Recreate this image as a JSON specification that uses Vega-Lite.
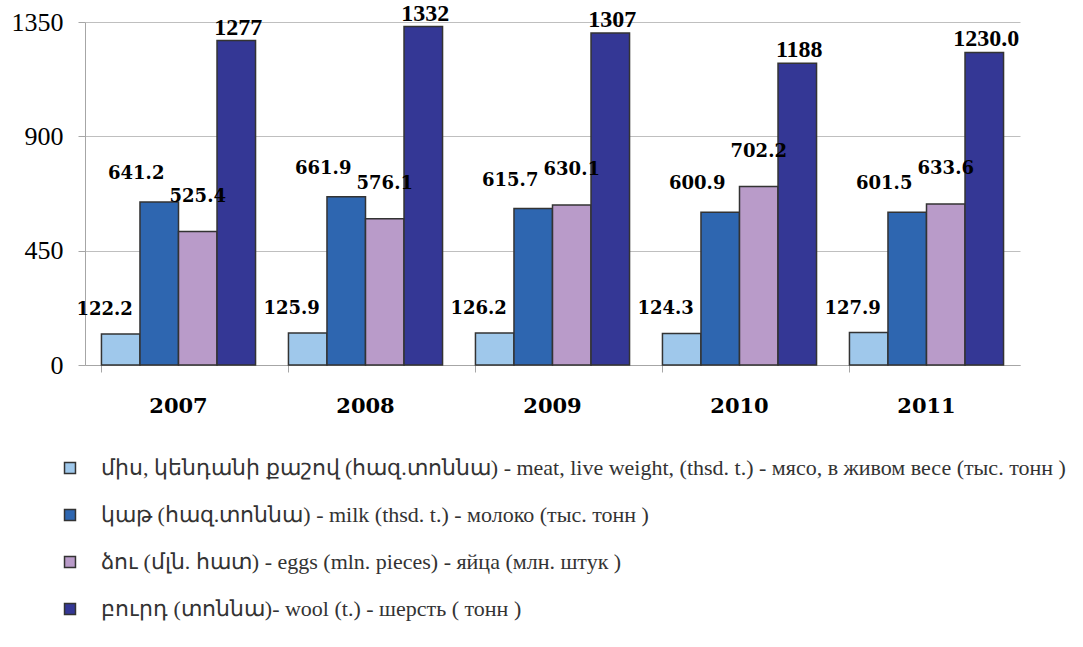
{
  "$schema": "https://vega.github.io/schema/vega-lite/v6.json",
  "width": 935,
  "height": 343,
  "autosize": "none",
  "padding": {"left": 85, "top": 22, "right": 63, "bottom": 282},
  "background": "white",
  "data": {
    "values": [
      {"year": "2007", "key": "meat", "series": "միս, կենդանի քաշով (հազ.տոննա)  - meat, live weight, (thsd. t.) -  мясо, в живом весе  (тыс. тонн )", "value": 122.2, "label": "122.2"},
      {"year": "2007", "key": "milk", "series": "կաթ  (հազ.տոննա) - milk (thsd. t.) -  молоко (тыс. тонн )", "value": 641.2, "label": "641.2"},
      {"year": "2007", "key": "eggs", "series": "ձու (մլն. հատ) - eggs  (mln. pieces)  - яйца (млн. штук )", "value": 525.4, "label": "525.4"},
      {"year": "2007", "key": "wool", "series": "բուրդ (տոննա)- wool (t.) - шерсть ( тонн )", "value": 1277, "label": "1277"},
      {"year": "2008", "key": "meat", "series": "միս, կենդանի քաշով (հազ.տոննա)  - meat, live weight, (thsd. t.) -  мясо, в живом весе  (тыс. тонн )", "value": 125.9, "label": "125.9"},
      {"year": "2008", "key": "milk", "series": "կաթ  (հազ.տոննա) - milk (thsd. t.) -  молоко (тыс. тонн )", "value": 661.9, "label": "661.9"},
      {"year": "2008", "key": "eggs", "series": "ձու (մլն. հատ) - eggs  (mln. pieces)  - яйца (млн. штук )", "value": 576.1, "label": "576.1"},
      {"year": "2008", "key": "wool", "series": "բուրդ (տոննա)- wool (t.) - шерсть ( тонн )", "value": 1332, "label": "1332"},
      {"year": "2009", "key": "meat", "series": "միս, կենդանի քաշով (հազ.տոննա)  - meat, live weight, (thsd. t.) -  мясо, в живом весе  (тыс. тонн )", "value": 126.2, "label": "126.2"},
      {"year": "2009", "key": "milk", "series": "կաթ  (հազ.տոննա) - milk (thsd. t.) -  молоко (тыс. тонн )", "value": 615.7, "label": "615.7"},
      {"year": "2009", "key": "eggs", "series": "ձու (մլն. հատ) - eggs  (mln. pieces)  - яйца (млн. штук )", "value": 630.1, "label": "630.1"},
      {"year": "2009", "key": "wool", "series": "բուրդ (տոննա)- wool (t.) - шерсть ( тонн )", "value": 1307, "label": "1307"},
      {"year": "2010", "key": "meat", "series": "միս, կենդանի քաշով (հազ.տոննա)  - meat, live weight, (thsd. t.) -  мясо, в живом весе  (тыс. тонн )", "value": 124.3, "label": "124.3"},
      {"year": "2010", "key": "milk", "series": "կաթ  (հազ.տոննա) - milk (thsd. t.) -  молоко (тыс. тонн )", "value": 600.9, "label": "600.9"},
      {"year": "2010", "key": "eggs", "series": "ձու (մլն. հատ) - eggs  (mln. pieces)  - яйца (млн. штук )", "value": 702.2, "label": "702.2"},
      {"year": "2010", "key": "wool", "series": "բուրդ (տոննա)- wool (t.) - шерсть ( тонн )", "value": 1188, "label": "1188"},
      {"year": "2011", "key": "meat", "series": "միս, կենդանի քաշով (հազ.տոննա)  - meat, live weight, (thsd. t.) -  мясо, в живом весе  (тыс. тонн )", "value": 127.9, "label": "127.9"},
      {"year": "2011", "key": "milk", "series": "կաթ  (հազ.տոննա) - milk (thsd. t.) -  молоко (тыс. тонн )", "value": 601.5, "label": "601.5"},
      {"year": "2011", "key": "eggs", "series": "ձու (մլն. հատ) - eggs  (mln. pieces)  - яйца (млн. штук )", "value": 633.6, "label": "633.6"},
      {"year": "2011", "key": "wool", "series": "բուրդ (տոննա)- wool (t.) - шерсть ( тонн )", "value": 1230.0, "label": "1230.0"}
    ]
  },
  "encoding": {
    "x": {
      "field": "year", "type": "nominal", "title": null,
      "scale": {"paddingInner": 0.176, "paddingOuter": 0.088},
      "axis": {
        "labelAngle": 0, "labelFont": "DejaVu Serif", "labelFontWeight": "bold", "labelFontSize": 21,
        "labelColor": "black", "labelPadding": 23, "tickSize": 7, "tickColor": "#A6A6A6",
        "domainColor": "#A6A6A6", "bandPosition": 0, "grid": false
      }
    },
    "xOffset": {"field": "key", "type": "nominal", "scale": {"domain": ["meat", "milk", "eggs", "wool"], "paddingInner": 0, "paddingOuter": 0}},
    "y": {
      "field": "value", "type": "quantitative", "title": null,
      "scale": {"domain": [0, 1350], "nice": false},
      "axis": {
        "values": [0, 450, 900, 1350], "format": "d", "labelFont": "Liberation Serif", "labelFontSize": 26,
        "labelColor": "black", "labelPadding": 15, "tickSize": 7, "tickColor": "#A6A6A6",
        "domainColor": "#A6A6A6", "grid": true, "gridColor": "#BFBFBF", "gridWidth": 1
      }
    }
  },
  "layer": [
    {
      "mark": {"type": "bar", "stroke": "#333333", "strokeWidth": 1.5},
      "encoding": {
        "color": {
          "field": "series", "type": "nominal",
          "scale": {
            "domain": [
              "միս, կենդանի քաշով (հազ.տոննա)  - meat, live weight, (thsd. t.) -  мясо, в живом весе  (тыс. тонн )",
              "կաթ  (հազ.տոննա) - milk (thsd. t.) -  молоко (тыс. тонн )",
              "ձու (մլն. հատ) - eggs  (mln. pieces)  - яйца (млн. штук )",
              "բուրդ (տոննա)- wool (t.) - шерсть ( тонн )"
            ],
            "range": ["#9FC8EB", "#2E66B0", "#B99BC9", "#343795"]
          },
          "legend": {
            "title": null, "orient": "none", "legendX": -26, "legendY": 435, "direction": "vertical",
            "symbolType": "square", "symbolSize": 120, "symbolStrokeColor": "#333333", "symbolStrokeWidth": 1.5,
            "labelFont": "Liberation Serif", "labelFontSize": 22, "labelColor": "#333333",
            "labelLimit": 1200, "labelOffset": 20, "rowPadding": 25
          }
        }
      }
    },
    {
      "transform": [{"filter": "datum.key === 'meat'"}],
      "mark": {"type": "text", "font": "DejaVu Serif", "fontWeight": "bold", "fontSize": 18, "dx": -16, "dy": -24, "baseline": "middle", "color": "black"},
      "encoding": {"text": {"field": "label"}}
    },
    {
      "transform": [{"filter": "datum.key === 'milk'"}],
      "mark": {"type": "text", "font": "DejaVu Serif", "fontWeight": "bold", "fontSize": 18, "dx": -23, "dy": -28, "baseline": "middle", "color": "black"},
      "encoding": {"text": {"field": "label"}}
    },
    {
      "transform": [{"filter": "datum.key === 'eggs'"}],
      "mark": {"type": "text", "font": "DejaVu Serif", "fontWeight": "bold", "fontSize": 18, "dx": 0, "dy": -35, "baseline": "middle", "color": "black"},
      "encoding": {"text": {"field": "label"}}
    },
    {
      "transform": [{"filter": "datum.key === 'wool'"}],
      "mark": {"type": "text", "font": "Liberation Serif", "fontWeight": "bold", "fontSize": 24, "dx": 2, "dy": -13, "baseline": "middle", "color": "black"},
      "encoding": {"text": {"field": "label"}}
    }
  ],
  "config": {"view": {"stroke": null}}
}
